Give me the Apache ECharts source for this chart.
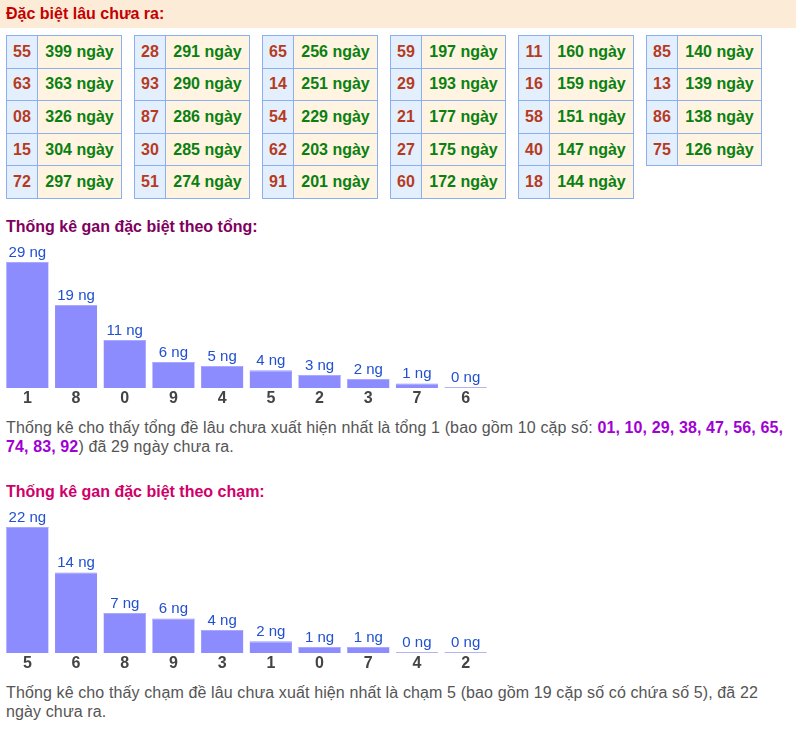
<!DOCTYPE html>
<html>
<head>
<meta charset="utf-8">
<script src="https://cdn.jsdelivr.net/npm/echarts@6.0.0/dist/echarts.min.js"></script>
<style>
  body { margin: 0; width: 796px; height: 729px; background: #fff; font-family: "Liberation Sans", Arial, sans-serif; position: relative; overflow: hidden; }
  .band { position: absolute; left: 0; top: 0; width: 796px; height: 28px; background: #fcebd7; }
  .band span { position: absolute; left: 6px; top: 0; line-height: 28px; font-size: 16px; font-weight: bold; color: #c40000; }
  table.gan { position: absolute; top: 35px; border-collapse: collapse; font-size: 16px; font-weight: bold; }
  table.gan td { border: 1px solid #8ab0f2; height: 31.6px; padding: 0; text-align: center; }
  table.gan td.so { width: 30px; background: #e4effd; color: #b63b1e; }
  table.gan td.ngay { width: 83px; background: #fff4e2; color: #0a8010; }
  .title { position: absolute; left: 6px; font-size: 16px; font-weight: bold; }
  .chart { position: absolute; left: 0; width: 500px; height: 175px; }
  .note { position: absolute; left: 6px; width: 784px; font-size: 16px; letter-spacing: 0.12px; line-height: 19px; color: #555; }
  .note b { color: #a000d4; }
</style>
</head>
<body>
<div class="band"><span>Đặc biệt lâu chưa ra:</span></div>
<div id="tables"></div>

<div class="title" style="top:218px;color:#800060">Thống kê gan đặc biệt theo tổng:</div>
<div class="chart" id="tong" style="top:240px"></div>
<div class="note" id="noteTong" style="top:418px"></div>

<div class="title" style="top:483px;color:#d0006a">Thống kê gan đặc biệt theo chạm:</div>
<div class="chart" id="cham" style="top:505px"></div>
<div class="note" style="top:683px">Thống kê cho thấy chạm đề lâu chưa xuất hiện nhất là chạm 5 (bao gồm 19 cặp số có chứa số 5), đã 22 ngày chưa ra.</div>

<script>
// cặp số lâu chưa ra (đọc theo cột)
const pairNumbers = ["55", "63", "08", "15", "72", "28", "93", "87", "30", "51",
  "65", "14", "54", "62", "91", "59", "29", "21", "27", "60",
  "11", "16", "58", "40", "18", "85", "13", "86", "75"];
const pairDays = [399, 363, 326, 304, 297, 291, 290, 286, 285, 274,
  256, 251, 229, 203, 201, 197, 193, 177, 175, 172,
  160, 159, 151, 147, 144, 140, 139, 138, 126];

const tongCats = ["1", "8", "0", "9", "4", "5", "2", "3", "7", "6"];
const tongValues = [29, 19, 11, 6, 5, 4, 3, 2, 1, 0];
const tongPairs = ["01", "10", "29", "38", "47", "56", "65", "74", "83", "92"];

const chamCats = ["5", "6", "8", "9", "3", "1", "0", "7", "4", "2"];
const chamValues = [22, 14, 7, 6, 4, 2, 1, 1, 0, 0];

// bảng
const wrap = document.getElementById("tables");
for (let t = 0; t * 5 < pairNumbers.length; t++) {
  const table = document.createElement("table");
  table.className = "gan";
  table.style.left = (6 + t * 128) + "px";
  for (let r = t * 5; r < Math.min(t * 5 + 5, pairNumbers.length); r++) {
    const tr = document.createElement("tr");
    tr.innerHTML = '<td class="so">' + pairNumbers[r] + '</td><td class="ngay">' + pairDays[r] + ' ngày</td>';
    table.appendChild(tr);
  }
  wrap.appendChild(table);
}

document.getElementById("noteTong").innerHTML =
  "Thống kê cho thấy tổng đề lâu chưa xuất hiện nhất là tổng 1 (bao gồm 10 cặp số: <b>" +
  tongPairs.join(", ") + "</b>) đã 29 ngày chưa ra.";

function barOption(cats, values) {
  return {
    animation: false,
    grid: { left: 3, width: 487, top: 22, height: 126 },
    xAxis: {
      type: "category",
      data: cats,
      axisLine: { show: false },
      axisTick: { show: false },
      axisLabel: { margin: 3, fontSize: 16, fontWeight: "bold", color: "#444", fontFamily: "Liberation Sans" }
    },
    yAxis: { type: "value", min: 0, max: "dataMax", show: false, splitLine: { show: false } },
    series: [{
      type: "bar",
      barWidth: 42,
      barMinHeight: 1,
      data: values.map(v => ({ value: v, itemStyle: { color: v === 0 ? "#b4b4f4" : "#8c8cff" } })),
      label: {
        show: true,
        position: "top",
        distance: 2,
        fontSize: 15,
        color: "#2150d0",
        fontFamily: "Liberation Sans",
        formatter: p => p.value + " ng"
      }
    }, {
      // viền sáng trên đỉnh cột
      type: "custom",
      silent: true,
      z: 3,
      data: values.map((v, i) => [i, v]),
      renderItem: (params, api) => {
        if (api.value(1) === 0) return null;
        const p = api.coord([api.value(0), api.value(1)]);
        return {
          type: "line",
          shape: { x1: p[0] - 21, y1: Math.round(p[1]) + 0.5, x2: p[0] + 21, y2: Math.round(p[1]) + 0.5 },
          style: { stroke: "#a9a9ff", lineWidth: 1 }
        };
      }
    }]
  };
}

echarts.init(document.getElementById("tong")).setOption(barOption(tongCats, tongValues));
echarts.init(document.getElementById("cham")).setOption(barOption(chamCats, chamValues));
</script>
</body>
</html>
